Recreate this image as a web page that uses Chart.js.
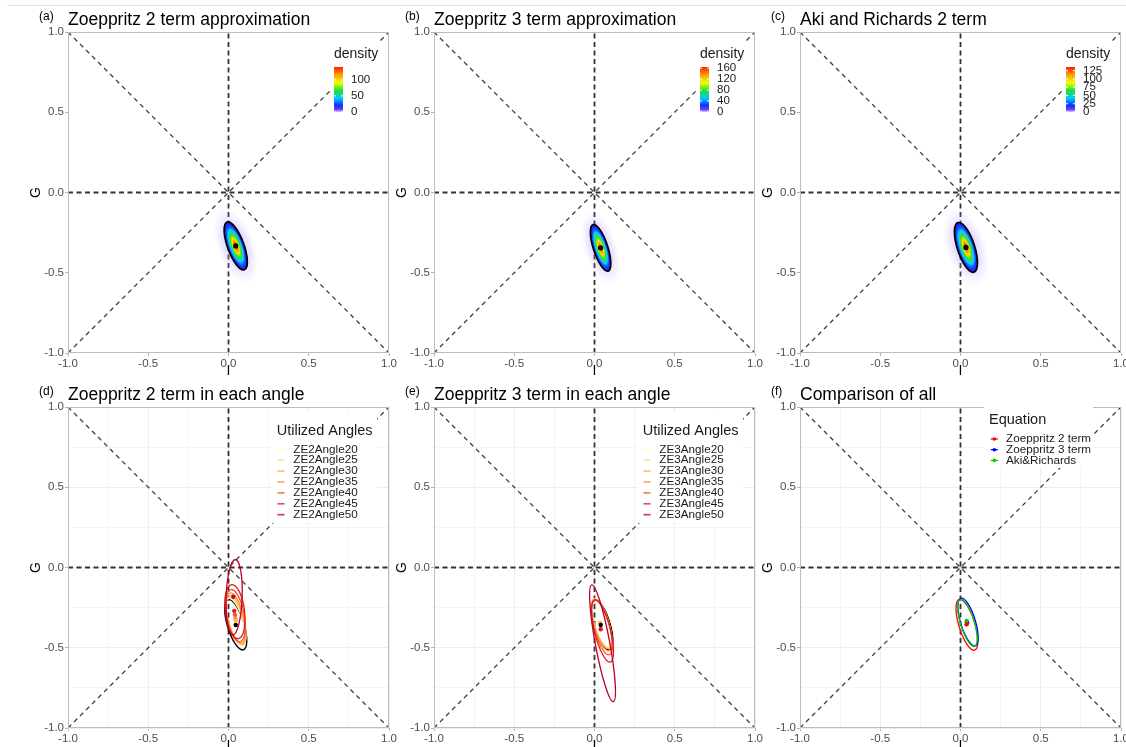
<!DOCTYPE html>
<html><head><meta charset="utf-8">
<script src="https://cdn.jsdelivr.net/npm/chart.js@4.4.1/dist/chart.umd.min.js"></script>
<style>
html,body{margin:0;padding:0;background:#fff;}
body{width:1126px;height:747px;overflow:hidden;position:relative;}
canvas{position:absolute;}
#topline{position:absolute;left:7px;top:5px;width:1119px;height:1px;background:#e2e2e2;}
</style></head><body>
<div id="topline"></div>
<script>
// ---------------- DATA ----------------
const panelTags = ['(a)', '(b)', '(c)', '(d)', '(e)', '(f)'];
const panelTitles = ['Zoeppritz 2 term approximation', 'Zoeppritz 3 term approximation', 'Aki and Richards 2 term',
  'Zoeppritz 2 term in each angle', 'Zoeppritz 3 term in each angle', 'Comparison of all'];
const xAxisTitle = 'I';
const yAxisTitle = 'G';
const majorTickValues = [-1.0, -0.5, 0.0, 0.5, 1.0];
const majorTickLabels = ['-1.0', '-0.5', '0.0', '0.5', '1.0'];
const minorGridValues = [-0.75, -0.25, 0.25, 0.75];

// reference lines (I = 0, G = 0, G = I, G = -I)
const vLineX = [0, 0], vLineY = [-1, 1];
const hLineX = [-1, 1], hLineY = [0, 0];
const diagUpX = [-1, 1], diagUpY = [-1, 1];
const diagDownX = [-1, 1], diagDownY = [1, -1];

// density panels (a)(b)(c): centre, semi-axes, tilt (deg)
const densCx = [0.045, 0.038, 0.034];
const densCy = [-0.333, -0.345, -0.342];
const densMajor = [0.158, 0.152, 0.162];
const densMinor = [0.051, 0.045, 0.054];
const densTilt = [110, 108, 108];
const densMax = [140, 164, 136];
const densTicksA = [0, 50, 100];
const densTicksB = [0, 40, 80, 120, 160];
const densTicksC = [0, 25, 50, 75, 100, 125];
const densLegendTitle = 'density';

// (d) Zoeppritz 2 term per angle
const angleLegendTitle = 'Utilized Angles';
const ze2Names = ['ZE2Angle20', 'ZE2Angle25', 'ZE2Angle30', 'ZE2Angle35', 'ZE2Angle40', 'ZE2Angle45', 'ZE2Angle50'];
const ze2Cx = [0.046, 0.046, 0.046, 0.045, 0.043, 0.040, 0.035];
const ze2Cy = [-0.338, -0.333, -0.325, -0.315, -0.300, -0.275, -0.185];
const ze2Major = [0.153, 0.155, 0.158, 0.160, 0.165, 0.170, 0.235];
const ze2Minor = [0.045, 0.046, 0.048, 0.050, 0.055, 0.060, 0.050];
const ze2Tilt = [107, 106, 105, 103, 100, 97, 88];
const ze2AllCx = [0.045], ze2AllCy = [-0.357], ze2AllMajor = [0.163], ze2AllMinor = [0.052], ze2AllTilt = [107];
const ze2DotX = [0.043, 0.045, 0.040, 0.036, 0.030, 0.045];
const ze2DotY = [-0.318, -0.330, -0.295, -0.270, -0.182, -0.358];
const ze2DotGroup = [3, 2, 4, 5, 6, -1];

// (e) Zoeppritz 3 term per angle
const ze3Names = ['ZE3Angle20', 'ZE3Angle25', 'ZE3Angle30', 'ZE3Angle35', 'ZE3Angle40', 'ZE3Angle45', 'ZE3Angle50'];
const ze3Cx = [0.042, 0.043, 0.044, 0.045, 0.047, 0.050, 0.050];
const ze3Cy = [-0.345, -0.348, -0.352, -0.360, -0.375, -0.395, -0.472];
const ze3Major = [0.156, 0.158, 0.160, 0.165, 0.175, 0.200, 0.370];
const ze3Minor = [0.045, 0.045, 0.046, 0.047, 0.048, 0.050, 0.045];
const ze3Tilt = [107, 107, 107, 106, 105, 104, 100.5];
const ze3AllCx = [0.047], ze3AllCy = [-0.357], ze3AllMajor = [0.163], ze3AllMinor = [0.050], ze3AllTilt = [107];
const ze3DotX = [0.035, 0.039, 0.039];
const ze3DotY = [-0.345, -0.385, -0.358];
const ze3DotGroup = [2, 5, -1];

// (f) comparison
const eqLegendTitle = 'Equation';
const eqNames = ['Zoeppritz 2 term', 'Zoeppritz 3 term', 'Aki&Richards'];
const eqCx = [0.040, 0.047, 0.043];
const eqCy = [-0.357, -0.340, -0.345];
const eqMajor = [0.165, 0.155, 0.152];
const eqMinor = [0.050, 0.046, 0.043];
const eqTilt = [107, 107, 107];
const eqDotX = [0.042, 0.038, 0.038];
const eqDotY = [-0.342, -0.333, -0.354];
const eqDotGroup = [1, 2, 0];

// ---------------- STYLE ----------------
const FONT = "'Liberation Sans', Arial, Helvetica, sans-serif";
const angleColors = ['#ffffb2', '#fed976', '#feb24c', '#fd8d3c', '#fc4e2a', '#e31a1c', '#bd0026'];
const eqColors = ['#ff0000', '#0000ff', '#00d000'];
const CW = 420, CH = 375;
const colLeft = [0, 366, 732];
const rowTop = [0, 375];

function isMajor(v) { return majorTickValues.some(m => Math.abs(m - v) < 1e-9); }
function tickLabel(v) {
  const i = majorTickValues.findIndex(m => Math.abs(m - v) < 1e-9);
  return i >= 0 ? majorTickLabels[i] : '';
}

function axis(horizontal, showGrid) {
  return {
    type: 'linear', min: -1, max: 1,
    afterBuildTicks: s => {
      s.ticks = majorTickValues.concat(minorGridValues).sort((a, b) => a - b).map(v => ({ value: v }));
    },
    ticks: {
      callback: v => tickLabel(v), autoSkip: false, maxRotation: 0, minRotation: 0,
      padding: 1, color: '#4d4d4d', font: { family: FONT, size: 11.5 }
    },
    grid: {
      display: true, drawOnChartArea: showGrid, drawTicks: true, tickLength: 3,
      color: c => (c.tick && isMajor(c.tick.value)) ? '#ededed' : '#f5f5f5',
      lineWidth: 1,
      tickColor: c => (c.tick && isMajor(c.tick.value)) ? '#b3b3b3' : 'rgba(0,0,0,0)'
    },
    border: { display: false },
    afterFit: s => { if (horizontal) s.height = 22; else s.width = 50; }
  };
}

function refDatasets() {
  const mk = (xs, ys, w, dash, col) => ({
    type: 'scatter', showLine: true, data: xs.map((x, i) => ({ x: x, y: ys[i] })),
    borderColor: col, borderWidth: w, borderDash: dash, pointRadius: 0, pointHoverRadius: 0,
    fill: false, order: 5
  });
  return [
    mk(diagUpX, diagUpY, 1.3, [4.5, 4], '#3d3d3d'),
    mk(diagDownX, diagDownY, 1.3, [4.5, 4], '#3d3d3d'),
    mk(hLineX, hLineY, 1.8, [5, 3.5], '#333333'),
    mk(vLineX, vLineY, 1.8, [5, 3.5], '#333333')
  ];
}

function ellPx(chart, cx, cy, a, b, deg) {
  const xs = chart.scales.x, ys = chart.scales.y;
  const t = deg * Math.PI / 180;
  const px = xs.getPixelForValue(cx), py = ys.getPixelForValue(cy);
  const mx = xs.getPixelForValue(cx + a * Math.cos(t)), my = ys.getPixelForValue(cy + a * Math.sin(t));
  const nx = xs.getPixelForValue(cx - b * Math.sin(t)), ny = ys.getPixelForValue(cy + b * Math.cos(t));
  return { px, py, ra: Math.hypot(mx - px, my - py), rb: Math.hypot(nx - px, ny - py), rot: Math.atan2(my - py, mx - px) };
}

function strokeEll(ctx, e, col, w) {
  ctx.beginPath();
  ctx.ellipse(e.px, e.py, e.ra, e.rb, e.rot, 0, Math.PI * 2);
  ctx.lineWidth = w; ctx.strokeStyle = col; ctx.setLineDash([]); ctx.stroke();
}

function drawDensity(ctx, e) {
  // faint outer haze
  ctx.save();
  ctx.translate(e.px, e.py); ctx.rotate(e.rot); ctx.scale(e.ra * 1.6, e.rb * 2.4);
  let g = ctx.createRadialGradient(0, 0, 0, 0, 0, 1);
  g.addColorStop(0, 'rgba(140,100,255,0.5)');
  g.addColorStop(0.6, 'rgba(170,140,255,0.25)');
  g.addColorStop(1, 'rgba(210,195,255,0)');
  ctx.fillStyle = g; ctx.beginPath(); ctx.arc(0, 0, 1, 0, Math.PI * 2); ctx.fill();
  ctx.restore();
  // core
  ctx.save();
  ctx.translate(e.px, e.py); ctx.rotate(e.rot); ctx.scale(e.ra, e.rb);
  g = ctx.createRadialGradient(0, 0, 0, 0, 0, 1);
  g.addColorStop(0, '#ff1a00');
  g.addColorStop(0.14, '#ff7000');
  g.addColorStop(0.3, '#ffe000');
  g.addColorStop(0.48, '#30e030');
  g.addColorStop(0.66, '#00d4ff');
  g.addColorStop(0.8, '#1a50ff');
  g.addColorStop(1, '#2010e0');
  ctx.fillStyle = g; ctx.beginPath(); ctx.arc(0, 0, 1, 0, Math.PI * 2); ctx.fill();
  ctx.restore();
  strokeEll(ctx, e, '#000', 1.7);
}

function colorbarGradient(ctx, x, yTop, h) {
  const g = ctx.createLinearGradient(0, yTop + h, 0, yTop);
  g.addColorStop(0, '#d8c8ff');
  g.addColorStop(0.06, '#5a3cff');
  g.addColorStop(0.15, '#1030ff');
  g.addColorStop(0.3, '#00c8ff');
  g.addColorStop(0.48, '#20e030');
  g.addColorStop(0.65, '#f0ff00');
  g.addColorStop(0.82, '#ffa000');
  g.addColorStop(1, '#ff2000');
  return g;
}

function makePanel(p) {
  const canvas = document.createElement('canvas');
  canvas.width = CW; canvas.height = CH;
  canvas.style.width = CW + 'px'; canvas.style.height = CH + 'px';
  canvas.style.left = colLeft[p % 3] + 'px';
  canvas.style.top = rowTop[Math.floor(p / 3)] + 'px';
  document.body.appendChild(canvas);

  const isDensity = p < 3;
  let dotX, dotY, dotCol, dotR;
  if (isDensity) {
    dotX = [densCx[p]]; dotY = [densCy[p]]; dotCol = ['#000000']; dotR = 2.6;
  } else if (p === 3) {
    dotX = ze2DotX; dotY = ze2DotY; dotCol = ze2DotGroup.map(g => g < 0 ? '#000000' : angleColors[g]); dotR = 2.2;
  } else if (p === 4) {
    dotX = ze3DotX; dotY = ze3DotY; dotCol = ze3DotGroup.map(g => g < 0 ? '#000000' : angleColors[g]); dotR = 2.2;
  } else {
    dotX = eqDotX; dotY = eqDotY; dotCol = eqDotGroup.map(g => eqColors[g]); dotR = 2.2;
  }
  const datasets = refDatasets();
  datasets.push({
    type: 'scatter', data: dotX.map((x, i) => ({ x: x, y: dotY[i] })), isDots: true,
    pointBackgroundColor: dotCol, pointBorderWidth: 0, pointRadius: dotR, pointHoverRadius: dotR, order: 0
  });

  const panelPlugin = {
    id: 'panelPlugin' + p,
    beforeDatasetDraw(chart, args) {
      if (!chart.data.datasets[args.index].isDots) return;
      const ctx = chart.ctx, ca = chart.chartArea;
      ctx.save();
      ctx.beginPath(); ctx.rect(ca.left, ca.top, ca.right - ca.left, ca.bottom - ca.top); ctx.clip();
      if (isDensity) {
        drawDensity(ctx, ellPx(chart, densCx[p], densCy[p], densMajor[p], densMinor[p], densTilt[p]));
      } else if (p === 3 || p === 4) {
        const cx = p === 3 ? ze2Cx : ze3Cx, cy = p === 3 ? ze2Cy : ze3Cy;
        const ma = p === 3 ? ze2Major : ze3Major, mi = p === 3 ? ze2Minor : ze3Minor, ti = p === 3 ? ze2Tilt : ze3Tilt;
        const acx = p === 3 ? ze2AllCx : ze3AllCx, acy = p === 3 ? ze2AllCy : ze3AllCy;
        const ama = p === 3 ? ze2AllMajor : ze3AllMajor, ami = p === 3 ? ze2AllMinor : ze3AllMinor, ati = p === 3 ? ze2AllTilt : ze3AllTilt;
        strokeEll(ctx, ellPx(chart, acx[0], acy[0], ama[0], ami[0], ati[0]), '#000000', 1.4);
        for (let i = 0; i < cx.length; i++) {
          strokeEll(ctx, ellPx(chart, cx[i], cy[i], ma[i], mi[i], ti[i]), angleColors[i], 1.3);
        }
      } else {
        for (let i = 0; i < eqCx.length; i++) {
          strokeEll(ctx, ellPx(chart, eqCx[i], eqCy[i], eqMajor[i], eqMinor[i], eqTilt[i]), eqColors[i], 1.3);
        }
      }
      ctx.restore();
    },
    afterDraw(chart) {
      const ctx = chart.ctx, ca = chart.chartArea;
      ctx.save();
      ctx.setLineDash([]);
      // panel border
      ctx.strokeStyle = '#bcbcbc'; ctx.lineWidth = 1;
      ctx.strokeRect(ca.left + 0.5, ca.top + 0.5, ca.right - ca.left - 1, ca.bottom - ca.top - 1);
      // titles
      ctx.fillStyle = '#000'; ctx.textAlign = 'left'; ctx.textBaseline = 'alphabetic';
      ctx.font = '12px ' + FONT;
      ctx.fillText(panelTags[p], ca.left - 29, ca.top - 12.5);
      ctx.font = '17.5px ' + FONT;
      ctx.fillText(panelTitles[p], ca.left, ca.top - 7);
      // axis titles
      ctx.font = '14px ' + FONT; ctx.textAlign = 'center'; ctx.textBaseline = 'middle';
      ctx.fillText(xAxisTitle, (ca.left + ca.right) / 2, ca.bottom + 18.5);
      ctx.save();
      ctx.translate(ca.left - 31.5, (ca.top + ca.bottom) / 2);
      ctx.rotate(-Math.PI / 2);
      ctx.fillText(yAxisTitle, 0, 0);
      ctx.restore();

      const L = ca.left, T = ca.top;
      if (isDensity) {
        const ticks = [densTicksA, densTicksB, densTicksC][p];
        ctx.fillStyle = '#fff'; ctx.fillRect(L + 262, T + 10, 57, 80);
        ctx.fillStyle = '#1a1a1a'; ctx.textAlign = 'left'; ctx.textBaseline = 'alphabetic';
        ctx.font = '14px ' + FONT;
        ctx.fillText(densLegendTitle, L + 266, T + 26);
        const bx = L + 266, by = T + 35, bw = 9, bh = 45;
        ctx.fillStyle = colorbarGradient(ctx, bx, by, bh);
        ctx.fillRect(bx, by, bw, bh);
        ctx.font = '11.5px ' + FONT; ctx.textBaseline = 'middle'; ctx.fillStyle = '#1a1a1a';
        ctx.strokeStyle = '#ffffff'; ctx.lineWidth = 1;
        ticks.forEach(v => {
          const y = by + bh - v / densMax[p] * bh;
          ctx.beginPath(); ctx.moveTo(bx, y); ctx.lineTo(bx + 2, y); ctx.moveTo(bx + bw - 2, y); ctx.lineTo(bx + bw, y); ctx.stroke();
          ctx.fillText(String(v), L + 283, y);
        });
      } else if (p === 3 || p === 4) {
        const names = p === 3 ? ze2Names : ze3Names;
        ctx.fillStyle = '#fff'; ctx.fillRect(L + 203, T + 5, 106, 111);
        ctx.fillStyle = '#1a1a1a'; ctx.textAlign = 'left'; ctx.textBaseline = 'alphabetic';
        ctx.font = '14.5px ' + FONT;
        ctx.fillText(angleLegendTitle, L + 208.7, T + 28);
        ctx.font = '11.7px ' + FONT; ctx.textBaseline = 'middle';
        names.forEach((n, i) => {
          const y = T + 42.3 + i * 10.9;
          ctx.globalAlpha = 0.8;
          ctx.strokeStyle = angleColors[i]; ctx.lineWidth = 1.6;
          ctx.beginPath(); ctx.moveTo(L + 209.5, y); ctx.lineTo(L + 216.5, y); ctx.stroke();
          ctx.globalAlpha = 1;
          ctx.fillStyle = '#1a1a1a';
          ctx.fillText(n, L + 225.3, y);
        });
      } else {
        ctx.fillStyle = '#fff'; ctx.fillRect(L + 184, T - 2, 109, 63);
        ctx.fillStyle = '#1a1a1a'; ctx.textAlign = 'left'; ctx.textBaseline = 'alphabetic';
        ctx.font = '14.5px ' + FONT;
        ctx.fillText(eqLegendTitle, L + 189, T + 17.3);
        ctx.font = '11.7px ' + FONT; ctx.textBaseline = 'middle';
        eqNames.forEach((n, i) => {
          const y = T + 32 + i * 10.7;
          ctx.strokeStyle = eqColors[i]; ctx.fillStyle = eqColors[i]; ctx.lineWidth = 1.2;
          ctx.beginPath(); ctx.moveTo(L + 190.7, y); ctx.lineTo(L + 198, y); ctx.stroke();
          ctx.beginPath(); ctx.arc(L + 194.3, y, 1.8, 0, Math.PI * 2); ctx.fill();
          ctx.fillStyle = '#1a1a1a';
          ctx.fillText(n, L + 206, y);
        });
      }
      ctx.restore();
    }
  };

  new Chart(canvas.getContext('2d'), {
    type: 'scatter',
    data: { datasets: datasets },
    options: {
      responsive: false, animation: false, devicePixelRatio: 1, events: [],
      layout: { padding: { left: 18, right: 31, top: 32, bottom: 0 } },
      plugins: { legend: { display: false }, tooltip: { enabled: false }, title: { display: false } },
      scales: { x: axis(true, !isDensity), y: axis(false, !isDensity) }
    },
    plugins: [panelPlugin]
  });
}

for (let p = 0; p < 6; p++) makePanel(p);
</script>
</body></html>
